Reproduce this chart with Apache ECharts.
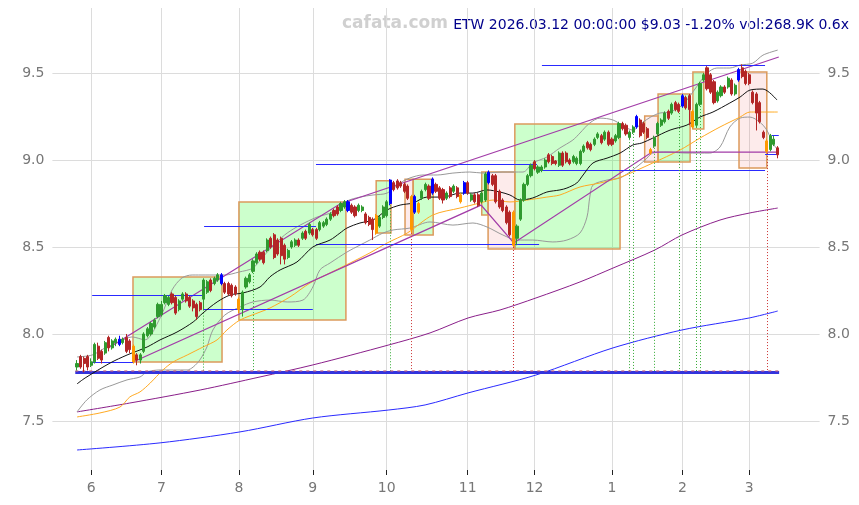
<!DOCTYPE html>
<html>
<head>
<meta charset="utf-8">
<script src="https://cdn.jsdelivr.net/npm/echarts@6/dist/echarts.min.js"></script>
<style>
  html, body { margin: 0; padding: 0; background: #fff; }
  #chart { width: 859px; height: 505px; }
</style>
</head>
<body>
<div id="chart"></div>
<script>
// daily candles, 2025-05-27 .. 2026-03-12 : [open, close, low, high]
const candles = [
  [7.81,7.83,7.79,7.85],[7.87,7.81,7.80,7.88],[7.86,7.83,7.78,7.87],[7.87,7.81,7.79,7.88],[7.82,7.84,7.81,7.86],
  [7.84,7.94,7.83,7.95],[7.93,7.86,7.85,7.95],[7.90,7.85,7.83,7.91],[7.89,7.95,7.88,7.96],[7.98,7.92,7.90,7.99],
  [7.92,7.96,7.91,7.97],[7.95,7.97,7.93,7.98],[7.94,7.97,7.93,7.99],[7.95,7.97,7.94,7.98],[7.98,7.90,7.89,8.00],
  [7.96,7.91,7.89,7.97],[7.93,7.84,7.83,7.94],[7.88,7.85,7.82,7.89],[7.85,7.88,7.83,7.89],[7.90,8.00,7.89,8.01],
  [7.99,8.03,7.98,8.04],[8.00,8.06,7.99,8.07],[8.04,8.08,8.03,8.09],[8.10,8.17,8.09,8.18],[8.11,8.17,8.10,8.19],
  [8.18,8.22,8.17,8.23],[8.17,8.21,8.16,8.22],[8.23,8.18,8.17,8.24],[8.21,8.12,8.11,8.22],[8.14,8.19,8.13,8.20],
  [8.20,8.23,8.19,8.24],[8.23,8.19,8.18,8.24],[8.21,8.16,8.15,8.22],[8.19,8.15,8.13,8.20],[8.17,8.10,8.08,8.18],
  [8.18,8.14,8.13,8.19],[8.20,8.31,8.14,8.32],[8.24,8.30,8.23,8.31],[8.31,8.25,8.24,8.32],[8.29,8.32,8.28,8.33],
  [8.31,8.34,8.30,8.35],[8.34,8.29,8.28,8.35],[8.29,8.24,8.23,8.30],[8.29,8.23,8.22,8.30],[8.28,8.22,8.21,8.29],
  [8.27,8.23,8.22,8.28],[8.20,8.14,8.12,8.21],[8.14,8.24,8.10,8.25],[8.27,8.32,8.26,8.33],[8.30,8.34,8.29,8.35],
  [8.36,8.42,8.35,8.43],[8.41,8.46,8.40,8.47],[8.47,8.43,8.42,8.48],[8.47,8.41,8.40,8.48],[8.48,8.54,8.47,8.55],
  [8.55,8.50,8.49,8.56],[8.57,8.44,8.43,8.58],[8.54,8.46,8.45,8.55],[8.55,8.45,8.40,8.56],[8.51,8.43,8.40,8.52],
  [8.44,8.48,8.43,8.49],[8.50,8.53,8.49,8.54],[8.51,8.54,8.50,8.55],[8.54,8.51,8.50,8.55],[8.55,8.58,8.54,8.59],
  [8.59,8.55,8.54,8.60],[8.58,8.63,8.57,8.64],[8.60,8.57,8.56,8.61],[8.60,8.55,8.54,8.61],[8.60,8.64,8.59,8.65],
  [8.62,8.64,8.61,8.65],[8.63,8.66,8.62,8.67],[8.66,8.69,8.65,8.70],[8.71,8.68,8.67,8.72],[8.73,8.69,8.68,8.74],
  [8.71,8.75,8.70,8.76],[8.73,8.76,8.72,8.77],[8.76,8.71,8.70,8.77],[8.74,8.70,8.69,8.75],[8.73,8.68,8.67,8.74],
  [8.71,8.74,8.70,8.75],[8.71,8.73,8.70,8.74],[8.69,8.64,8.63,8.70],[8.67,8.63,8.62,8.68],[8.66,8.60,8.54,8.67],
  [8.68,8.58,8.57,8.69],[8.62,8.67,8.61,8.68],[8.67,8.73,8.66,8.74],[8.68,8.76,8.67,8.77],[8.75,8.885,8.74,8.89],
  [8.87,8.83,8.82,8.88],[8.88,8.84,8.83,8.89],[8.87,8.85,8.84,8.88],[8.86,8.82,8.81,8.87],[8.85,8.78,8.77,8.86],
  [8.79,8.60,8.58,8.80],[8.70,8.79,8.69,8.80],[8.75,8.70,8.69,8.76],[8.78,8.82,8.77,8.83],[8.83,8.86,8.82,8.87],
  [8.85,8.78,8.77,8.86],[8.81,8.89,8.80,8.90],[8.86,8.82,8.81,8.87],[8.84,8.78,8.77,8.85],[8.83,8.77,8.75,8.84],
  [8.78,8.81,8.77,8.82],[8.84,8.79,8.78,8.85],[8.82,8.85,8.81,8.86],[8.84,8.79,8.78,8.85],[8.80,8.76,8.75,8.81],
  [8.81,8.87,8.80,8.88],[8.87,8.81,8.80,8.88],[8.77,8.80,8.76,8.81],[8.80,8.76,8.75,8.81],[8.80,8.74,8.73,8.81],
  [8.76,8.81,8.75,8.82],[8.77,8.92,8.76,8.93],[8.87,8.93,8.86,8.94],[8.91,8.86,8.85,8.92],[8.91,8.76,8.75,8.92],
  [8.82,8.73,8.72,8.83],[8.77,8.71,8.70,8.78],[8.73,8.64,8.63,8.74],[8.70,8.57,8.56,8.71],[8.70,8.51,8.50,8.71],
  [8.55,8.62,8.51,8.63],[8.66,8.77,8.65,8.78],[8.77,8.86,8.76,8.87],[8.86,8.91,8.85,8.92],[8.91,8.97,8.90,8.98],
  [8.99,8.95,8.94,9.00],[8.93,8.96,8.92,8.97],[8.94,8.96,8.93,8.97],[8.96,9.00,8.95,9.01],[9.03,8.99,8.98,9.04],
  [9.02,8.98,8.97,9.03],[8.995,8.98,8.97,9.00],[8.97,9.04,8.96,9.05],[9.04,8.97,8.96,9.05],[9.04,8.99,8.98,9.05],
  [9.00,8.98,8.97,9.01],[8.99,9.02,8.98,9.03],[8.98,9.01,8.97,9.02],[8.98,9.05,8.97,9.06],[9.05,9.08,9.04,9.09],
  [9.10,9.07,9.06,9.11],[9.09,9.06,9.05,9.10],[9.09,9.12,9.08,9.13],[9.13,9.15,9.12,9.16],[9.14,9.10,9.09,9.15],
  [9.12,9.16,9.11,9.17],[9.16,9.09,9.08,9.17],[9.12,9.09,9.08,9.13],[9.11,9.14,9.10,9.15],[9.13,9.21,9.12,9.22],
  [9.21,9.18,9.17,9.22],[9.20,9.15,9.14,9.21],[9.13,9.16,9.12,9.17],[9.16,9.19,9.15,9.20],[9.19,9.25,9.18,9.26],
  [9.23,9.14,9.13,9.24],[9.21,9.16,9.15,9.22],[9.18,9.13,9.12,9.19],[9.06,9.04,9.03,9.07],[9.08,9.13,9.07,9.14],
  [9.15,9.21,9.14,9.22],[9.20,9.23,9.19,9.24],[9.22,9.27,9.21,9.28],[9.28,9.24,9.23,9.29],[9.27,9.32,9.26,9.33],
  [9.33,9.29,9.28,9.34],[9.32,9.28,9.27,9.33],[9.31,9.37,9.30,9.38],[9.36,9.30,9.29,9.37],[9.37,9.29,9.20,9.38],
  [9.28,9.19,9.18,9.29],[9.20,9.32,9.19,9.33],[9.32,9.44,9.31,9.45],[9.46,9.49,9.45,9.50],[9.53,9.41,9.40,9.54],
  [9.49,9.39,9.38,9.50],[9.45,9.33,9.32,9.46],[9.34,9.39,9.33,9.40],[9.37,9.42,9.36,9.43],[9.42,9.39,9.38,9.43],
  [9.42,9.47,9.41,9.48],[9.46,9.38,9.37,9.47],[9.38,9.43,9.37,9.44],[9.46,9.52,9.45,9.53],[9.53,9.48,9.47,9.55],
  [9.51,9.44,9.43,9.52],[9.49,9.44,9.43,9.50],[9.39,9.33,9.32,9.40],[9.38,9.27,9.17,9.39],[9.33,9.22,9.21,9.34],
  [9.16,9.13,9.12,9.17],[9.11,9.05,9.04,9.12],[9.06,9.14,9.05,9.15],[9.09,9.12,9.08,9.14],[9.07,9.03,9.01,9.08]
];
const blueCandles = [12, 41, 77, 89, 96, 101, 110, 117, 159, 172, 188];
const orangeCandles = [16, 46, 85, 95, 97, 109, 124, 163, 175, 196];

// first trading day of each month and its label
const monthStarts = [4, 24, 46, 67, 88, 111, 130, 152, 172, 191];
const monthLabels = ['6', '7', '8', '9', '10', '11', '12', '1', '2', '3'];
const priceTicks = [7.5, 8.0, 8.5, 9.0, 9.5];

// indicator lines as [candle index, price]
const ma20 = [[0,7.713],[2.3,7.747],[9.4,7.833],[14.2,7.879],[19.9,7.925],[23.6,7.966],[28.4,8.011],[33,8.069],[35.8,8.121],[39.8,8.184],[43.5,8.224],[47.2,8.236],[52,8.27],[54.8,8.328],[57.7,8.368],[62.5,8.414],[67,8.5],[71.9,8.54],[74.7,8.58],[76.7,8.609],[80.4,8.638],[84.1,8.655],[88.1,8.713],[91.8,8.741],[95.5,8.753],[99.4,8.787],[104,8.787],[108.8,8.81],[112.5,8.81],[116.5,8.828],[120.2,8.816],[123,8.799],[125.9,8.77],[129.5,8.782],[133.5,8.816],[137.2,8.828],[139.2,8.839],[142,8.868],[143.8,8.914],[146.6,8.983],[150.6,9.011],[154.3,9.04],[157.9,9.086],[160.5,9.098],[163.6,9.126],[168.5,9.172],[173.3,9.201],[177,9.247],[180.7,9.276],[185.5,9.328],[188.4,9.362],[191.2,9.402],[194.9,9.408],[198.9,9.345]];
const ma50 = [[0,7.523],[6.5,7.546],[12.2,7.58],[15,7.638],[17.9,7.667],[20.8,7.718],[24.4,7.793],[27.3,7.839],[31.3,7.879],[35.8,7.925],[39.8,7.966],[42.6,8.023],[46.3,8.08],[52,8.126],[54.8,8.149],[60.5,8.213],[66.2,8.293],[71.9,8.351],[77.6,8.408],[83.2,8.466],[88.1,8.523],[93.8,8.58],[101.1,8.684],[108.8,8.724],[114.5,8.753],[118.2,8.77],[123,8.759],[127.8,8.77],[133.5,8.787],[137.2,8.799],[142.9,8.845],[148.6,8.868],[154.3,8.9],[163.6,8.983],[171.3,9.057],[177,9.126],[182.7,9.19],[188.4,9.247],[191.2,9.276],[199.1,9.276]];
const bandUpper = [[0,7.868],[4.3,7.879],[8,7.92],[11.9,7.954],[15.6,7.983],[19.3,7.966],[23.6,8.092],[27,8.253],[29.8,8.322],[32.7,8.339],[36.4,8.339],[42,8.339],[46,8.356],[50,8.379],[52.8,8.443],[56.8,8.529],[59.7,8.58],[63.4,8.626],[68.2,8.672],[72.7,8.701],[76.7,8.764],[80.4,8.787],[84.1,8.799],[88.1,8.81],[91.8,8.868],[94.6,8.897],[98.3,8.914],[102.3,8.914],[106.8,8.925],[111.6,8.931],[115.3,8.925],[121,8.931],[126.7,8.931],[129.5,8.983],[133.5,9.017],[137.2,9.069],[140.9,9.115],[142.9,9.155],[145.7,9.213],[148.6,9.241],[152.3,9.23],[155.7,9.19],[157.9,9.172],[160.5,9.213],[163,9.247],[165.6,9.27],[168.5,9.276],[171.3,9.305],[173.3,9.345],[177,9.448],[179,9.5],[181.8,9.529],[185.5,9.529],[188.4,9.546],[192,9.557],[194.9,9.603],[199.1,9.632]];
const bandLower = [[0,7.552],[2.8,7.621],[6.5,7.678],[10.2,7.707],[14.2,7.736],[17.9,7.753],[19.9,7.782],[23.6,7.793],[31.3,7.793],[33,7.81],[34.9,7.851],[36.9,7.925],[38.6,8.023],[42,8.109],[46.3,8.155],[50,8.184],[54.8,8.195],[59.7,8.184],[64.2,8.195],[67,8.27],[69,8.368],[71.9,8.408],[76.7,8.471],[80.4,8.511],[83.2,8.54],[86.9,8.58],[89.8,8.598],[94.6,8.609],[100.3,8.644],[106.8,8.626],[112.5,8.638],[116.5,8.615],[121,8.569],[125,8.54],[129.5,8.54],[135.2,8.529],[139.2,8.54],[142.9,8.58],[144.9,8.672],[145.7,8.787],[146.6,8.856],[150.6,8.885],[154.3,8.897],[157.9,8.943],[161.4,9.0],[163.6,9.04],[167.6,9.046],[173.3,9.04],[179.8,9.04],[182.7,9.075],[185.5,9.19],[188.4,9.241],[191.2,9.247],[194,9.218],[196,9.172],[197.7,9.098],[199.1,9.057]];
const ma100 = [[0,7.552],[15,7.603],[35,7.678],[52,7.753],[67,7.822],[88.6,7.937],[100.3,8.006],[111.1,8.092],[120.2,8.138],[130.4,8.207],[142.9,8.299],[152.3,8.379],[164.2,8.483],[171.9,8.569],[182.7,8.655],[191,8.695],[199.1,8.724]];
const ma200 = [[0,7.333],[23.6,7.374],[46.3,7.437],[67,7.517],[88.6,7.563],[98.9,7.592],[111.1,7.661],[130.4,7.764],[152.3,7.92],[171.9,8.023],[191,8.092],[199.1,8.132]];

// trend channel
const channelUpper = [[9.4,7.925],[74.7,8.747],[199.4,9.592]];
const channelLower = [[15.9,7.839],[114.8,8.741],[124.1,8.523],[163.4,9.046],[199.1,9.046]];

// horizontal levels: [from, to, price]
const levels = [
  [4.3,16.2,7.839],[4.3,35.5,8.224],[35.8,67,8.144],[36.1,67.9,8.621],[67.9,131.3,8.517],
  [67.9,130.7,8.977],[130.7,195.5,8.943],[132.1,195.5,9.546],[197.4,199.4,9.144],[195.5,199.1,9.034]
];

// zones: [from, to, top, bottom, kind] kind 0 = green, 1 = pink
const zones = [
  [15.9,41.2,8.328,7.839,0],[46.0,76.4,8.759,8.080,0],[85.0,89.2,8.881,8.580,0],[93.2,95.5,8.89,8.569,1],
  [95.5,101.2,8.89,8.569,0],[115.0,116.8,8.931,8.684,0],[116.8,124.4,8.931,8.489,1],[124.4,154.3,9.207,8.489,0],
  [161.3,165.1,9.253,8.989,1],[165.1,174.2,9.379,8.989,0],[175.0,178.1,9.506,9.178,0],[188.1,196.0,9.506,8.954,1]
];

// signal days (dotted drop lines)
const buySignals = [36, 50, 89, 157, 158, 164, 171, 176, 177];
const sellSignals = [95, 124, 196];
const volumeBase = 7.782;

const padLeft = 7;
const padRight = 12;
const yMin = 7.218;
const yMax = 9.874;

const upColor = '#2f9a2f';
const downColor = '#b32626';
const gridColor = '#dcdcdc';

const cats = [];
for (let k = 0; k < padLeft + candles.length + padRight; k++) {
  const m = monthStarts.indexOf(k - padLeft);
  cats.push(m >= 0 ? monthLabels[m] : '');
}
const isMonth = (idx) => cats[idx] !== '';

const candleData = candles.map((c, i) => {
  let col = null;
  if (blueCandles.includes(i)) col = '#0000ff';
  if (orangeCandles.includes(i)) col = '#ff9900';
  const item = { value: [i + padLeft, c[0], c[1], c[2], c[3]] };
  if (col) item.itemStyle = { color: col, color0: col, borderColor: col, borderColor0: col };
  return item;
});

function lineSeries(data, color, width, z) {
  return {
    type: 'line', xAxisIndex: 1, yAxisIndex: 0, data: data, showSymbol: false, symbol: 'none',
    smooth: 0.3, lineStyle: { color: color, width: width }, z: z, silent: true, animation: false
  };
}

// grid lines drawn on the index axis so they sit exactly on the month ticks
const gridLines = monthStarts.map(i => ({ coords: [[i, yMin], [i, yMax]] }))
  .concat(priceTicks.map(v => ({ coords: [[-padLeft, v], [candles.length - 1 + padRight, v]] })));

const chart = echarts.init(document.getElementById('chart'));
chart.setOption({
  animation: false,
  backgroundColor: '#fff',
  grid: { left: 52.4, right: 39.4, top: 8, bottom: 35, containLabel: false, outerBoundsMode: 'none' },
  graphic: [
    { type: 'text', left: 342, top: 15, style: { text: 'cafata.com', fill: '#d0d0d0', font: 'bold 17px "DejaVu Sans"' } },
    { type: 'text', right: 10, top: 18, style: { text: 'ETW 2026.03.12 00:00:00 $9.03 -1.20% vol:268.9K 0.6x', fill: '#00008b', font: '14px "DejaVu Sans"' } }
  ],
  xAxis: [
    {
      type: 'category', data: cats, boundaryGap: false,
      axisLine: { show: false },
      axisTick: { show: true, interval: isMonth, length: 5, lineStyle: { color: '#222' } },
      axisLabel: { interval: isMonth, color: '#777', fontSize: 14, margin: 11, fontFamily: 'DejaVu Sans' },
      splitLine: { show: false }
    },
    { type: 'value', min: -padLeft, max: candles.length - 1 + padRight, show: false }
  ],
  yAxis: [
    {
      type: 'value', min: yMin, max: yMax, position: 'left',
      axisLine: { show: false }, axisTick: { show: false },
      axisLabel: { color: '#777', fontSize: 14, margin: 8, fontFamily: 'DejaVu Sans', showMinLabel: false, showMaxLabel: false, formatter: v => v.toFixed(1) },
      splitLine: { show: false }
    },
    {
      type: 'value', min: yMin, max: yMax, position: 'right',
      axisLine: { show: false }, axisTick: { show: false },
      axisLabel: { color: '#777', fontSize: 14, margin: 8, fontFamily: 'DejaVu Sans', showMinLabel: false, showMaxLabel: false, formatter: v => v.toFixed(1) },
      splitLine: { show: false }
    }
  ],
  series: [
    {
      type: 'lines', coordinateSystem: 'cartesian2d', xAxisIndex: 1, yAxisIndex: 0, silent: true, z: 0,
      lineStyle: { color: gridColor, width: 1, opacity: 1 },
      data: gridLines
    },
    {
      type: 'custom', xAxisIndex: 1, yAxisIndex: 0, data: zones, z: 1, silent: true,
      encode: { x: [0, 1], y: [2, 3] },
      renderItem: (params, api) => {
        const p1 = api.coord([api.value(0), api.value(2)]);
        const p2 = api.coord([api.value(1), api.value(3)]);
        const pink = api.value(4) === 1;
        return {
          type: 'rect',
          shape: { x: p1[0], y: p1[1], width: p2[0] - p1[0], height: p2[1] - p1[1] },
          style: { fill: pink ? 'rgba(240,90,90,0.12)' : 'rgba(0,255,0,0.2)', stroke: '#dc9a5c', lineWidth: 1.5 }
        };
      }
    },
    lineSeries(ma200, '#2a2aff', 1, 3),
    lineSeries(ma100, '#8a1f8a', 1, 3),
    lineSeries(bandUpper, '#999', 1, 3),
    lineSeries(bandLower, '#999', 1, 3),
    lineSeries(ma50, '#ffaa22', 1, 3),
    lineSeries(ma20, '#111', 1, 4),
    {
      type: 'lines', coordinateSystem: 'cartesian2d', xAxisIndex: 1, yAxisIndex: 0, polyline: true, silent: true, z: 4,
      lineStyle: { color: '#a23ca8', width: 1.2, opacity: 1 },
      data: [{ coords: channelUpper }, { coords: channelLower }]
    },
    {
      type: 'lines', coordinateSystem: 'cartesian2d', xAxisIndex: 1, yAxisIndex: 0, silent: true, z: 4,
      lineStyle: { color: '#2a2aff', width: 1, opacity: 1 },
      data: levels.map(h => ({ coords: [[h[0], h[2]], [h[1], h[2]]] }))
    },
    {
      type: 'lines', coordinateSystem: 'cartesian2d', xAxisIndex: 1, yAxisIndex: 0, silent: true, z: 4,
      data: buySignals.map(i => ({ coords: [[i, candles[i][2]], [i, volumeBase]], lineStyle: { color: '#33aa33', width: 1, type: [1, 2], opacity: 1 } }))
        .concat(sellSignals.map(i => ({ coords: [[i, candles[i][2]], [i, volumeBase]], lineStyle: { color: '#cc3333', width: 1, type: [1, 2], opacity: 1 } })))
    },
    {
      type: 'lines', coordinateSystem: 'cartesian2d', xAxisIndex: 1, yAxisIndex: 0, silent: true, z: 4,
      data: [
        { coords: [[-0.5, volumeBase], [199.5, volumeBase]], lineStyle: { color: '#3333dd', width: 3, opacity: 1 } },
        { coords: [[-0.5, volumeBase + 0.004], [199.5, volumeBase + 0.004]], lineStyle: { color: '#c0607a', width: 1.5, type: [3, 4], opacity: 0.8 } }
      ]
    },
    {
      type: 'candlestick', xAxisIndex: 0, yAxisIndex: 0, z: 5, barWidth: '75%',
      encode: { x: 0, y: [1, 2, 3, 4] },
      data: candleData,
      itemStyle: { color: upColor, color0: downColor, borderColor: upColor, borderColor0: downColor, borderWidth: 1 }
    }
  ]
});
</script>
</body>
</html>
